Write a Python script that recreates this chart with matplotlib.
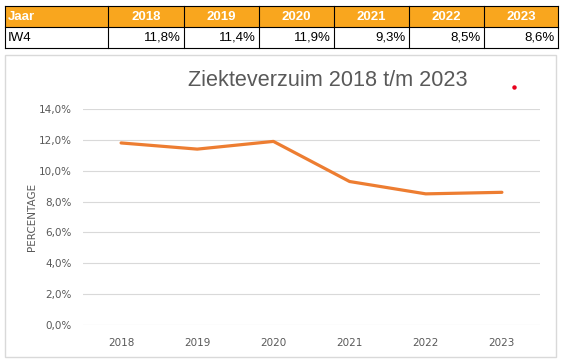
import matplotlib.pyplot as plt
from matplotlib.patches import Rectangle
from matplotlib.ticker import FuncFormatter

years = ['2018', '2019', '2020', '2021', '2022', '2023']
verzuim = [11.8, 11.4, 11.9, 9.3, 8.5, 8.6]
row_label = 'IW4'
header_label = 'Jaar'

W, H = 562, 363
fig = plt.figure(figsize=(W / 100, H / 100), dpi=100)
fig.patch.set_facecolor('white')

# table on top, drawn in pixel coords
tab = fig.add_axes([0, 0, 1, 1])
tab.set_xlim(0, W)
tab.set_ylim(H, 0)
tab.axis('off')

col_edges = [5, 108, 184, 259, 334, 409, 484, 558]
row_edges = [6, 27, 48]
orange = '#F9A61E'
tab.add_patch(Rectangle((col_edges[0], row_edges[0]), col_edges[-1] - col_edges[0],
                        row_edges[1] - row_edges[0], facecolor=orange, edgecolor='none'))
for x in col_edges:
    tab.plot([x, x], [row_edges[0], row_edges[-1]], color='black', lw=0.8)
for y in row_edges:
    tab.plot([col_edges[0], col_edges[-1]], [y, y], color='black', lw=0.8)

tfont = 'Liberation Sans'
ymid_h = (row_edges[0] + row_edges[1]) / 2 + 0.5
ymid_d = (row_edges[1] + row_edges[2]) / 2 + 0.5
tab.text(col_edges[0] + 3, ymid_h, header_label, color='white', weight='bold',
         fontsize=9.5, family=tfont, va='center', ha='left')
tab.text(col_edges[0] + 3, ymid_d, row_label, color='black',
         fontsize=9.5, family=tfont, va='center', ha='left')
for i, (yr, v) in enumerate(zip(years, verzuim)):
    xc = (col_edges[i + 1] + col_edges[i + 2]) / 2
    tab.text(xc, ymid_h, yr, color='white', weight='bold', fontsize=9.5,
             family=tfont, va='center', ha='center')
    tab.text(col_edges[i + 2] - 3, ymid_d, f'{v:.1f}%'.replace('.', ','),
             color='black', fontsize=9.5, family=tfont, va='center', ha='right')

# chart border
tab.add_patch(Rectangle((5, 55), 551, 302, facecolor='none', edgecolor='#D9D9D9', lw=1))
# small red dot
tab.plot([514], [87], 'o', color='#E8001C', markersize=2.2)

tab.text(328, 80, 'Ziekteverzuim 2018 t/m 2023', fontsize=15.6, color='#595959',
         ha='center', va='center', family='Liberation Sans')

# the line chart
ax = fig.add_axes([83 / W, 38 / H, 457 / W, 216 / H])
x = range(len(years))
ax.plot(x, [v / 100 for v in verzuim], color='#ED7D31', lw=2.3, solid_capstyle='round')
ax.set_xlim(-0.5, len(years) - 0.5)
ax.set_ylim(0, 0.14)
ax.set_yticks([i * 0.02 for i in range(8)])
ax.yaxis.set_major_formatter(FuncFormatter(lambda v, p: f'{v * 100:.1f}%'.replace('.', ',')))
ax.set_xticks(list(x))
ax.set_xticklabels(years)
ax.grid(axis='y', color='#D9D9D9', lw=0.8)
ax.set_axisbelow(True)
for s in ax.spines.values():
    s.set_visible(False)
ax.tick_params(length=0, colors='#595959', labelsize=7.5)
ax.tick_params(axis='y', pad=8)
ax.tick_params(axis='x', pad=9)
ax.set_ylabel('PERCENTAGE', fontsize=7.5, color='#595959', labelpad=1)
ax.set_facecolor('none')

fig.savefig('out.png', dpi=100)
